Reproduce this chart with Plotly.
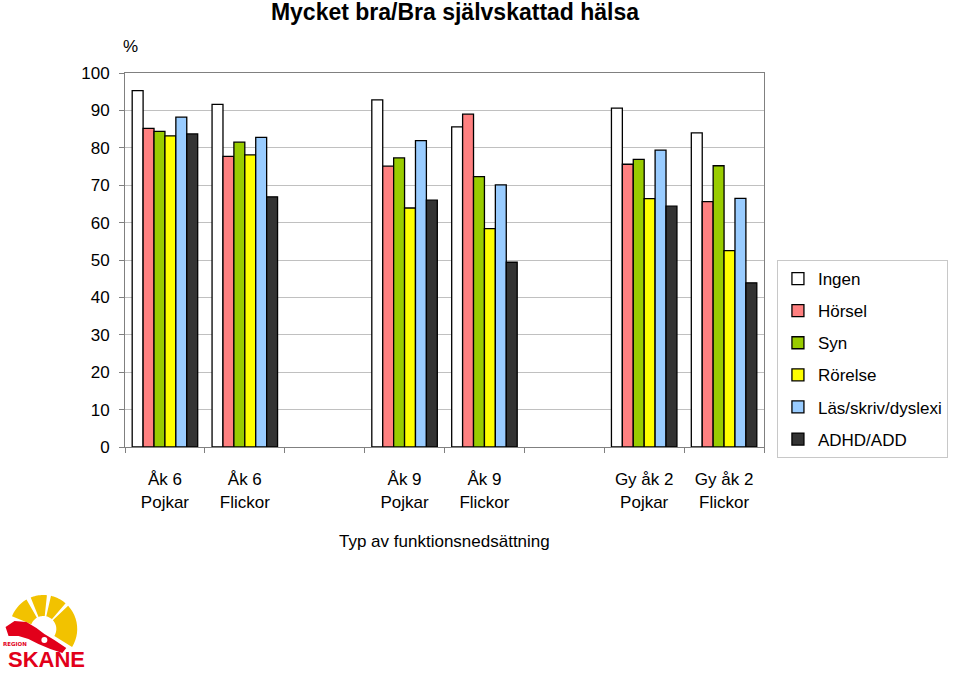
import math
import plotly.graph_objects as go

categories = ["Åk 6<br>Pojkar", "Åk 6<br>Flickor", " ",
              "Åk 9<br>Pojkar", "Åk 9<br>Flickor", "  ",
              "Gy åk 2<br>Pojkar", "Gy åk 2<br>Flickor"]

series_names = ["Ingen", "Hörsel", "Syn", "Rörelse", "Läs/skriv/dyslexi", "ADHD/ADD"]
ingen = [95.3, 91.6, None, 92.8, 85.6, None, 90.6, 84.0]
horsel = [85.2, 77.7, None, 75.1, 89.0, None, 75.6, 65.6]
syn = [84.4, 81.5, None, 77.3, 72.3, None, 76.9, 75.2]
rorelse = [83.2, 78.1, None, 63.9, 58.4, None, 66.4, 52.5]
las = [88.2, 82.8, None, 81.9, 70.1, None, 79.4, 66.5]
adhd = [83.7, 66.9, None, 66.0, 49.4, None, 64.4, 43.9]
series_values = [ingen, horsel, syn, rorelse, las, adhd]
colors = ["#FFFFFF", "#FF8080", "#99CC00", "#FFFF00", "#99CCFF", "#333333"]

y_ticks = list(range(0, 101, 10))

FONT = "Liberation Sans, Arial, sans-serif"

L, R, T, B = 125, 767, 73, 447
W, H = 960, 675

def px(x, y):
    return (x - L) / (R - L), (B - y) / (B - T)

fig = go.Figure()
for i, (name, vals, col) in enumerate(zip(series_names, series_values, colors)):
    fig.add_trace(go.Bar(
        x=categories, y=vals, name=name,
        marker=dict(color=col, line=dict(color="#000000", width=1.3)),
        legendgroup=f"g{i}",
    ))

# Logo approximation (Region Skåne)
shapes = []
cx, cy = 43, 629
r_in, r_out = 13, 34
segs = [(158, 120), (112, 84), (77, 49), (43, -32)]
for a0, a1 in segs:
    pts = []
    n = 12
    for k in range(n + 1):
        a = math.radians(a0 + (a1 - a0) * k / n)
        pts.append(px(cx + r_out * math.cos(a), cy - r_out * math.sin(a)))
    for k in range(n + 1):
        a = math.radians(a1 + (a0 - a1) * k / n)
        pts.append(px(cx + r_in * math.cos(a), cy - r_in * math.sin(a)))
    path = "M " + " L ".join(f"{x:.5f},{y:.5f}" for x, y in pts) + " Z"
    shapes.append(dict(type="path", path=path, xref="paper", yref="paper",
                       fillcolor="#F2C200", line=dict(width=0), layer="above"))

swoosh_px = [(5, 627), (14, 621), (26, 622), (36, 628), (44, 634), (54, 640),
             (66, 648), (62, 653), (50, 649), (38, 644), (28, 639), (18, 636), (8, 636)]
pts = [px(x, y) for x, y in swoosh_px]
path = "M " + " L ".join(f"{x:.5f},{y:.5f}" for x, y in pts) + " Z"
shapes.append(dict(type="path", path=path, xref="paper", yref="paper",
                   fillcolor="#E2001A", line=dict(width=0), layer="above"))
dx, dy = px(41, 643)
dx2, dy2 = px(47, 637)
shapes.append(dict(type="circle", xref="paper", yref="paper", x0=dx, y0=dy, x1=dx2, y1=dy2,
                   fillcolor="#FFFFFF", line=dict(width=0), layer="above"))

annotations = []
ax_, ay_ = px(131, 47)
annotations.append(dict(x=ax_, y=ay_, xref="paper", yref="paper", text="%", showarrow=False,
                        xanchor="center", yanchor="middle", font=dict(size=17, color="#000")))
tx, ty = px(446, 541)
annotations.append(dict(x=tx, y=ty, xref="paper", yref="paper", text="Typ av funktionsnedsättning",
                        showarrow=False, xanchor="center", yanchor="middle",
                        font=dict(size=17, color="#000")))
rx, ry = px(14, 644)
annotations.append(dict(x=rx, y=ry, xref="paper", yref="paper", text="<b>REGION</b>",
                        showarrow=False, xanchor="center", yanchor="middle",
                        font=dict(size=5.5, color="#E2001A", family="DejaVu Sans")))
sx, sy = px(46, 660)
annotations.append(dict(x=sx, y=sy, xref="paper", yref="paper", text="<b>SKANE</b>",
                        showarrow=False, xanchor="center", yanchor="middle",
                        font=dict(size=22, color="#E2001A", family=FONT)))

lx, ly = px(780, 260)

fig.update_layout(
    width=W, height=H,
    margin=dict(l=L, r=W - R, t=T, b=H - B),
    paper_bgcolor="#FFFFFF", plot_bgcolor="#FFFFFF",
    font=dict(family=FONT, size=17, color="#000000"),
    title=dict(text="<b>Mycket bra/Bra självskattad hälsa</b>", x=455 / W, xanchor="center",
               y=1 - 12 / H, yanchor="middle", font=dict(size=23, color="#000")),
    barmode="group", bargap=0.18, bargroupgap=0.0,
    showlegend=True,
    legend=dict(x=lx, y=ly, xanchor="left", yanchor="top",
                bordercolor="#C8C8C8", borderwidth=1, bgcolor="#FFFFFF",
                font=dict(size=17), tracegroupgap=7, itemwidth=30),
    xaxis=dict(categoryorder="array", categoryarray=categories,
               showline=True, linecolor="#808080", linewidth=1, mirror=True,
               ticks="outside", tickson="boundaries", ticklen=5, tickcolor="#808080",
               showgrid=False, tickfont=dict(size=17), fixedrange=True,
               ticklabelstandoff=17),
    yaxis=dict(range=[0, 100], tickvals=y_ticks, showline=True, linecolor="#808080", linewidth=1,
               mirror=True, ticks="outside", ticklen=5, tickcolor="#808080",
               showgrid=True, gridcolor="#C0C0C0", gridwidth=1,
               tickfont=dict(size=17), zeroline=False, ticklabelstandoff=6),
    shapes=shapes, annotations=annotations,
)

fig.write_html("out.html")
